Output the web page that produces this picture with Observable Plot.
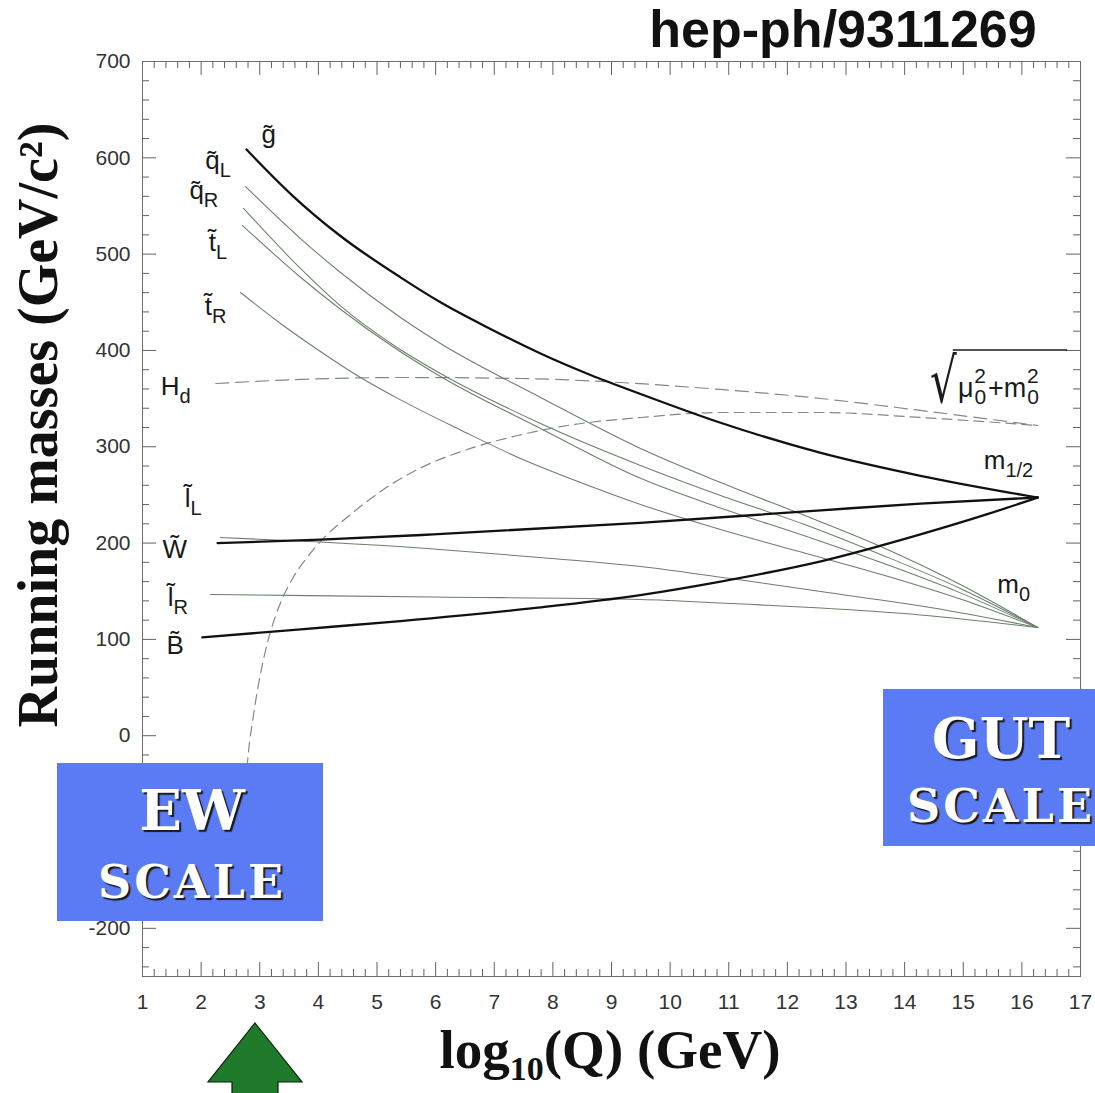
<!DOCTYPE html>
<html><head><meta charset="utf-8">
<script src="https://cdn.jsdelivr.net/npm/d3@7"></script>
<script src="https://cdn.jsdelivr.net/npm/@observablehq/plot@0.6"></script>
<style>
body{margin:0;background:#fff;}
#wrap{position:relative;width:1095px;height:1093px;overflow:hidden;background:#fff;}
#wrap svg{position:absolute;left:0;top:0;}
.box{position:absolute;background:#5b7bf5;}
.bt{position:absolute;width:400px;text-align:center;color:#fff;font-family:"DejaVu Serif",serif;font-weight:bold;line-height:1;text-shadow:2px 2px 1px #1a1a1a;white-space:nowrap;}
</style></head><body><div id="wrap"></div>
<script>
// ---------- data (log10 Q in GeV, running mass in GeV) ----------
const gluinoQ = [2.774, 3.576, 4.377, 5.401, 6.083, 6.936, 7.789, 8.642, 9.495, 10.86, 12.57, 14.27, 16.27];
const gluinoM = [608.6, 559.8, 518.8, 475.9, 450.0, 422.3, 396.8, 374.5, 354.8, 324.9, 293.7, 269.9, 247.3];
const winoQ = [2.28, 4.04, 5.96, 9.49, 12.57, 14.27, 16.27];
const winoM = [200, 203.5, 209, 221, 234, 241, 247.3];
const binoQ = [2.02, 3.70, 5.40, 7.67, 9.49, 10.86, 12.57, 14.27, 15.41, 16.27];
const binoM = [102, 110.5, 119, 132.5, 146, 160, 181, 209, 230, 247.3];
const qLQ = [2.757, 3.695, 4.377, 5.401, 6.083, 7.789, 9.495, 10.86, 12.34, 13.59, 14.95, 16.27];
const qLM = [570.2, 516.2, 480.9, 434.2, 407.2, 351.2, 298.2, 262.9, 227.6, 196.5, 157.0, 112.4];
const qRQ = [2.723, 3.695, 4.377, 5.316, 6.083, 7.789, 9.495, 10.86, 12.34, 13.59, 14.95, 16.27];
const qRM = [547.4, 485.1, 446.2, 404.1, 376.1, 324.2, 280.6, 249.4, 218.3, 188.2, 152.9, 112.4];
const tLQ = [2.706, 3.695, 4.377, 5.316, 6.083, 7.789, 9.495, 10.86, 12.34, 13.59, 14.95, 16.27];
const tLM = [529.7, 476.0, 442.8, 402.0, 373.0, 319.0, 267.2, 236.4, 206.5, 180.0, 148.3, 112.4];
const tRQ = [2.672, 3.354, 3.985, 4.719, 5.401, 6.424, 7.448, 8.471, 9.495, 10.86, 12.22, 13.59, 14.95, 16.27];
const tRM = [460.2, 428.0, 401.0, 371.9, 348.7, 317.5, 287.8, 262.9, 240.1, 214.1, 190.9, 167.6, 141.9, 112.4];
const slLQ = [2.330, 4.036, 5.964, 7.670, 9.495, 11.03, 12.57, 14.44, 16.27];
const slLM = [205.8, 201.1, 193.9, 185.6, 175.7, 163.2, 149.7, 133.1, 112.4];
const slRQ = [2.160, 5.964, 9.495, 11.03, 12.57, 14.27, 16.27];
const slRM = [146.6, 144.0, 141.5, 137.3, 132.6, 125.4, 112.4];
const hdQ = [2.25, 3.70, 5.40, 7.45, 9.15, 10.86, 12.57, 14.27, 16.27];
const hdM = [365.7, 369.9, 371.9, 370.9, 366.7, 359.5, 350.1, 337.7, 322.1];
const huQ = [2.76, 2.81, 2.88, 2.96, 3.06, 3.18, 3.35, 3.56, 3.82, 4.12, 4.55, 5.11, 5.69, 6.54, 7.40, 8.25, 9.50, 10.86, 12.57, 14.27, 16.27];
const huM = [-50, -15.3, 15.9, 47.0, 78.2, 107.3, 137.3, 163.3, 186.1, 206.9, 229.7, 255.6, 276.4, 297.2, 311.7, 322.1, 330.4, 335.6, 335.6, 330.4, 322.1];

const labelText = ["g\u0303", "q\u0303_L", "q\u0303_R", "t\u0303_L", "t\u0303_R", "H_d", "l\u0303_L", "W\u0303", "l\u0303_R", "B\u0303", "m_1/2", "m_0"];
const labelQ = [3.03, 2.07, 1.80, 2.13, 2.06, 1.31, 1.72, 1.34, 1.43, 1.41, 15.35, 15.58];
const labelM = [624.2, 597.2, 566.1, 512.1, 445.6, 362.6, 246.3, 193.4, 143.5, 93.7, 285.8, 157.0];

const xTicks = [1,2,3,4,5,6,7,8,9,10,11,12,13,14,15,16,17];
const yTicks = [-200,-100,0,100,200,300,400,500,600,700];

// ---------- tables ----------
function series(name, kind, q, m){ return q.map((v,i)=>({name, kind, q:v, m:m[i]})); }
const rows = [
  ...series("gluino","gaugino",gluinoQ,gluinoM),
  ...series("wino","gaugino",winoQ,winoM),
  ...series("bino","gaugino",binoQ,binoM),
  ...series("qL","scalar",qLQ,qLM),
  ...series("qR","scalar",qRQ,qRM),
  ...series("tL","scalar",tLQ,tLM),
  ...series("tR","scalar",tRQ,tRM),
  ...series("slL","scalar",slLQ,slLM),
  ...series("slR","scalar",slRQ,slRM)
];
const hdRows = series("Hd","higgs",hdQ,hdM);
const huRows = series("Hu","higgs",huQ,huM);
const labels = labelText.map((t,i)=>({t, q:labelQ[i], m:labelM[i]}));

const W = 1095, H = 1093, mL = 142, mR = 15, mT = 61, mB = 117;
const pw = W - mL - mR, ph = H - mT - mB;
const xMinor = d3.range(1, 17.001, 0.2).map(v=>+v.toFixed(1)).filter(v=>!xTicks.includes(v));
const yMinor = d3.range(-240, 701, 20).filter(v=>!yTicks.includes(v));
const tickCol = "#5d655d";

const chart = Plot.plot({
  width: W, height: H, marginLeft: mL, marginRight: mR, marginTop: mT, marginBottom: mB,
  x: {domain: [1, 17]},
  y: {domain: [-250, 700]},
  style: {fontFamily: "'Liberation Sans', Arial, sans-serif", fontSize: "21px", color: "#333", background: "transparent", overflow: "visible"},
  marks: [
    Plot.tickX(xTicks, {x: d=>d, insetTop: ph-14, stroke: tickCol}),
    Plot.tickX(xMinor, {x: d=>d, insetTop: ph-7, stroke: tickCol}),
    Plot.tickX(xTicks, {x: d=>d, insetBottom: ph-14, stroke: tickCol}),
    Plot.tickX(xMinor, {x: d=>d, insetBottom: ph-7, stroke: tickCol}),
    Plot.tickY(yTicks, {y: d=>d, insetRight: pw-14, stroke: tickCol}),
    Plot.tickY(yMinor, {y: d=>d, insetRight: pw-7, stroke: tickCol}),
    Plot.tickY(yTicks, {y: d=>d, insetLeft: pw-14, stroke: tickCol}),
    Plot.tickY(yMinor, {y: d=>d, insetLeft: pw-7, stroke: tickCol}),
    Plot.frame({stroke: "#6a6f6a"}),
    Plot.axisX(xTicks, {tickSize: 0, tickPadding: 18, tickFormat: d=>String(d), label: null, fontSize: 21, fill: "#333"}),
    Plot.axisY(yTicks, {tickSize: 0, tickPadding: 12, tickFormat: d=>String(d), label: null, fontSize: 21, fill: "#333"}),
    Plot.line(hdRows, {x: "q", y: "m", stroke: "#808a80", strokeWidth: 1.2, strokeDasharray: "13,7", curve: "monotone-x"}),
    Plot.line(huRows, {x: "q", y: "m", stroke: "#808a80", strokeWidth: 1.2, strokeDasharray: "10,6", curve: "monotone-x"}),
    Plot.line(rows.filter(d=>d.kind==="scalar"), {x: "q", y: "m", z: "name", stroke: "#6a7f6a", strokeWidth: 1.05, curve: "monotone-x"}),
    Plot.line(rows.filter(d=>d.kind==="gaugino"), {x: "q", y: "m", z: "name", stroke: "#111", strokeWidth: 2.3, curve: "monotone-x"}),
    Plot.text(labels, {x: "q", y: "m", text: "t", textAnchor: "start", fontSize: 26, fill: "#1a1a1a"})
  ]
});
const wrap = document.getElementById("wrap");
wrap.appendChild(chart);

// subscripts on curve labels
d3.select(chart).selectAll("text").each(function(){
  const txt = this.textContent;
  if (!txt.includes("_")) return;
  const parts = txt.split("_");
  const s = d3.select(this);
  s.selectAll("*").remove();
  s.text(parts[0]);
  s.append("tspan").attr("dy", 8).attr("font-size", 20).text(parts[1]);
});

// sqrt(mu0^2 + m0^2) label
const sx = chart.scale("x"), sy = chart.scale("y");
const svg = d3.select(chart);
const rx = sx.apply(14.44), ry = sy.apply(346);
svg.append("text").attr("text-anchor", "start")
  .attr("transform", `translate(${rx},${ry}) scale(1.05,1.55)`)
  .attr("font-family", "'DejaVu Sans', sans-serif").attr("font-size", 40).attr("fill", "#1a1a1a")
  .text("\u221A");
const sq = svg.append("text").attr("text-anchor", "start").attr("x", sx.apply(14.92)).attr("y", sy.apply(351))
  .attr("font-family", "'Liberation Sans', sans-serif").attr("fill", "#1a1a1a");
sq.append("tspan").attr("font-size", 27).text("\u03BC");
sq.append("tspan").attr("font-size", 21).attr("dx", 1).attr("dy", 7).text("0");
sq.append("tspan").attr("font-size", 21).attr("dx", -12).attr("dy", -21).text("2");
sq.append("tspan").attr("font-size", 27).attr("dx", 2).attr("dy", 14).text("+m");
sq.append("tspan").attr("font-size", 21).attr("dx", 1).attr("dy", 7).text("0");
sq.append("tspan").attr("font-size", 21).attr("dx", -12).attr("dy", -21).text("2");
svg.append("line").attr("x1", sx.apply(14.83)).attr("x2", sx.apply(16.78))
  .attr("y1", sy.apply(400)).attr("y2", sy.apply(400)).attr("stroke", "#1a1a1a").attr("stroke-width", 1.4);

// titles
svg.append("text").attr("x", 843).attr("y", 47).attr("text-anchor", "middle")
  .attr("font-family", "'Liberation Sans', Arial, sans-serif").attr("font-weight", "bold").attr("font-size", 52).attr("fill", "#111")
  .text("hep-ph/9311269");
svg.append("text").attr("transform", "translate(57,425) rotate(-90)").attr("text-anchor", "middle")
  .attr("font-family", "'Liberation Serif', 'Times New Roman', serif").attr("font-weight", "bold").attr("font-size", 56).attr("fill", "#111")
  .text("Running masses (GeV/c\u00B2)");
const xl = svg.append("text").attr("x", 610).attr("y", 1068).attr("text-anchor", "middle")
  .attr("font-family", "'Liberation Serif', 'Times New Roman', serif").attr("font-weight", "bold").attr("font-size", 55).attr("fill", "#111");
xl.append("tspan").text("log");
xl.append("tspan").attr("font-size", 34).attr("dy", 12).text("10");
xl.append("tspan").attr("dy", -12).text("(Q) (GeV)");

// green arrow at the EW scale
svg.append("polygon")
  .attr("points", "255,1023 302,1082 278,1082 278,1100 232,1100 232,1082 208,1082")
  .attr("fill", "#1f7a2c").attr("stroke", "#0b1f0b").attr("stroke-width", 1.2);

// scale boxes
function box(left, top, w, h, lines){
  const b = document.createElement("div");
  b.className = "box";
  Object.assign(b.style, {left: left+"px", top: top+"px", width: w+"px", height: h+"px"});
  wrap.appendChild(b);
  for (const [txt, cx, cy, size, ls] of lines){
    const t = document.createElement("div");
    t.className = "bt";
    t.textContent = txt;
    Object.assign(t.style, {left: (cx-200)+"px", top: (cy-0.48*size)+"px", fontSize: size+"px", letterSpacing: ls+"px"});
    wrap.appendChild(t);
  }
}
box(57, 763, 266, 158, [["EW", 192, 809, 56, 0], ["SCALE", 192, 881, 46, 3]]);
box(883, 689, 220, 157, [["GUT", 1001, 737, 56, 0], ["SCALE", 1001, 805, 46, 3]]);
</script></body></html>
